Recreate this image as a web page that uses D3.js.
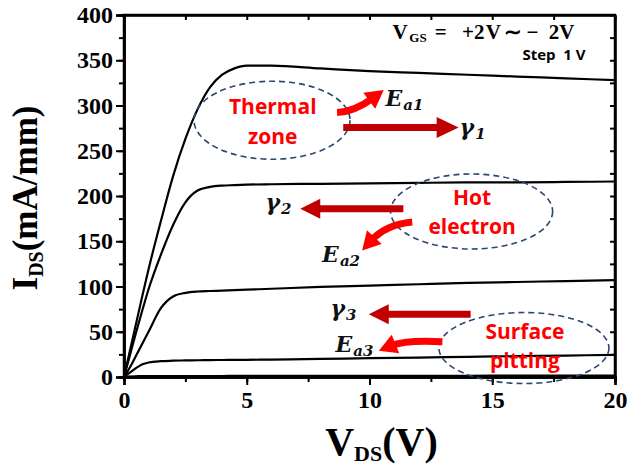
<!DOCTYPE html>
<html>
<head>
<meta charset="utf-8">
<script src="https://cdn.jsdelivr.net/npm/d3@7"></script>
<style>
  html, body { margin: 0; padding: 0; background: #ffffff; }
  svg { display: block; }
</style>
</head>
<body>
<svg id="chart" width="630" height="470"></svg>
<script>
// Output characteristics I_DS–V_DS, V_GS from +2 V down to -2 V in 1 V steps
const vdsGrid = [0, 0.25, 0.5, 0.75, 1, 1.5, 2, 2.5, 3, 3.5, 4, 4.5, 5, 6, 8, 10, 12, 14, 16, 18, 20];
const gateLabels = ["+2 V", "+1 V", "0 V", "-1 V", "-2 V"];
const idsVgsP2 = [0, 30, 60, 90, 119, 172, 222, 263, 296, 320, 334, 341, 344, 344, 341, 338, 336, 334, 332, 330, 328];
const idsVgsP1 = [0, 25, 50, 74, 97, 135, 168, 193, 206, 210, 211.5, 212, 212.5, 213, 213.5, 214, 214.5, 215, 215, 215.5, 216];
const idsVgs0  = [0, 11, 24, 37, 50, 76, 89, 93, 94.5, 95, 95.5, 96, 96.5, 97.5, 99.5, 101, 102.5, 104, 105, 106, 107];
const idsVgsM1 = [0, 5, 10, 14, 16, 17.5, 18, 18.3, 18.5, 18.7, 18.8, 18.9, 19, 19.3, 20, 20.8, 21.5, 22.3, 23, 23.7, 24.5];
const idsVgsM2 = [0, 0.5, 0.8, 1, 1, 1, 1, 1.1, 1.1, 1.1, 1.1, 1.2, 1.2, 1.2, 1.3, 1.3, 1.4, 1.4, 1.5, 1.5, 1.5];
const xTicks = [0, 5, 10, 15, 20];
const yTicks = [0, 50, 100, 150, 200, 250, 300, 350, 400];

const series = [idsVgsP2, idsVgsP1, idsVgs0, idsVgsM1, idsVgsM2].map((vals, i) => ({
  gate: gateLabels[i],
  points: vdsGrid.map((v, j) => [v, vals[j]])
}));

const W = 630, H = 470;
const margin = { left: 124, right: 15, top: 15, bottom: 93 };
const svg = d3.select("#chart");

const x = d3.scaleLinear().domain([0, 20]).range([margin.left, W - margin.right]);
const y = d3.scaleLinear().domain([0, 400]).range([H - margin.bottom, margin.top]);

const serif = "'Liberation Serif', 'Times New Roman', serif";
const sans = "'Open Sans', 'Noto Sans', sans-serif";

// ---- axes ----
const minorX = d3.range(0, 20.01, 2.5);
const minorY = d3.range(0, 400.01, 25);

function styleAxis(g) {
  g.attr("font-family", null);
  g.selectAll("path.domain").attr("stroke", "#000").attr("stroke-width", 2.5);
  g.selectAll(".tick line").attr("stroke", "#000").attr("stroke-width", 2);
}
function styleLabels(g) {
  g.selectAll("text")
    .style("font-family", serif).style("font-weight", "bold").style("font-size", "24px")
    .attr("fill", "#000");
}

// minor ticks (outer, bottom & left)
svg.append("g")
  .attr("transform", `translate(0,${y(0)})`)
  .call(d3.axisBottom(x).tickValues(minorX).tickSize(5).tickFormat(""))
  .call(styleAxis);
svg.append("g")
  .attr("transform", `translate(${x(0)},0)`)
  .call(d3.axisLeft(y).tickValues(minorY).tickSize(5).tickFormat(""))
  .call(styleAxis);

// major ticks with labels
svg.append("g")
  .attr("transform", `translate(0,${y(0)})`)
  .call(d3.axisBottom(x).tickValues(xTicks).tickSize(8).tickPadding(6).tickFormat(d3.format("d")))
  .call(styleAxis).call(styleLabels);

svg.append("g")
  .attr("transform", `translate(${x(0)},0)`)
  .call(d3.axisLeft(y).tickValues(yTicks).tickSize(8).tickPadding(3).tickFormat(d3.format("d")))
  .call(styleAxis).call(styleLabels);

// mirror ticks (inner, top & right)
svg.append("g")
  .attr("transform", `translate(${x(20)},0)`)
  .call(d3.axisRight(y).tickValues(minorY).tickSizeInner(0).tickSizeOuter(0).tickFormat(""))
  .call(styleAxis)
  .call(g => g.selectAll(".tick line").attr("x1", -5).attr("x2", 0));
svg.append("g")
  .attr("transform", `translate(0,${y(400)})`)
  .call(d3.axisTop(x).tickValues(minorX).tickSizeInner(0).tickSizeOuter(0).tickFormat(""))
  .call(styleAxis)
  .call(g => g.selectAll(".tick line").attr("y1", 0).attr("y2", 5));

// frame
svg.append("rect")
  .attr("x", x(0)).attr("y", y(400))
  .attr("width", x(20) - x(0)).attr("height", y(0) - y(400))
  .attr("fill", "none").attr("stroke", "#000").attr("stroke-width", 2.5);

// axis titles
const xt = svg.append("text")
  .attr("x", (x(0) + x(20)) / 2 + 12).attr("y", 455)
  .attr("text-anchor", "middle")
  .style("font-family", serif).style("font-weight", "bold").style("font-size", "40px");
xt.append("tspan").text("V");
xt.append("tspan").style("font-size", "22px").attr("dy", 6).text("DS");
xt.append("tspan").attr("dy", -6).text("(V)");

const yt = svg.append("text")
  .attr("transform", `translate(37,${(y(0) + y(400)) / 2 + 2}) rotate(-90)`)
  .attr("text-anchor", "middle")
  .style("font-family", serif).style("font-weight", "bold").style("font-size", "35px");
yt.append("tspan").text("I");
yt.append("tspan").style("font-size", "20px").attr("dy", 6).text("DS");
yt.append("tspan").attr("dy", -6).text("(mA/mm)");

// ---- curves ----
const line = d3.line()
  .x(d => x(d[0])).y(d => y(d[1]))
  .curve(d3.curveMonotoneX);

svg.append("g").selectAll("path")
  .data(series)
  .join("path")
  .attr("d", d => line(d.points))
  .attr("fill", "none")
  .attr("stroke", "#000")
  .attr("stroke-width", 2.2)
  .attr("stroke-linejoin", "round");

// ---- degradation-mechanism annotations ----
const zoneColor = "#2d4770";
const zones = [
  { cx: 6.03, cy: 283.7, rx: 78, ry: 39, lines: ["Thermal", "zone"], tx: 6.06, ty: [290.6, 257.5] },
  { cx: 14.16, cy: 182.9, rx: 81, ry: 37.5, lines: ["Hot", "electron"], tx: 14.18, ty: [190.3, 157.6] },
  { cx: 16.29, cy: 32, rx: 85, ry: 35.5, lines: ["Surface", "pitting"], tx: 16.33, ty: [41.5, 9.6] }
];

const zg = svg.append("g");
zones.forEach(z => {
  zg.append("ellipse")
    .attr("cx", x(z.cx)).attr("cy", y(z.cy))
    .attr("rx", z.rx).attr("ry", z.ry)
    .attr("fill", "none").attr("stroke", zoneColor)
    .attr("stroke-width", 1.6).attr("stroke-dasharray", "6,4");
  z.lines.forEach((t, i) => {
    zg.append("text")
      .attr("x", x(z.tx)).attr("y", y(z.ty[i]))
      .attr("text-anchor", "middle")
      .style("font-family", sans).style("font-weight", "bold").style("font-size", "21px")
      .attr("fill", "#ff0000")
      .text(t);
  });
});

// arrows: quadratic shaft from start via ctrl towards the tip, triangular head at the tip
function arrow(g, start, ctrl, tip, color, width, headLen, headW) {
  const s = [x(start[0]), y(start[1])];
  const c = [x(ctrl[0]), y(ctrl[1])];
  const t = [x(tip[0]), y(tip[1])];
  const dx = t[0] - c[0], dy = t[1] - c[1];
  const len = Math.hypot(dx, dy);
  const ux = dx / len, uy = dy / len;
  const base = [t[0] - ux * headLen, t[1] - uy * headLen];
  const shaftEnd = [t[0] - ux * headLen * 0.7, t[1] - uy * headLen * 0.7];
  const path = d3.path();
  path.moveTo(s[0], s[1]);
  path.quadraticCurveTo(c[0], c[1], shaftEnd[0], shaftEnd[1]);
  g.append("path").attr("d", path.toString())
    .attr("fill", "none").attr("stroke", color).attr("stroke-width", width);
  const px = -uy * headW / 2, py = ux * headW / 2;
  g.append("path")
    .attr("d", `M${t[0]},${t[1]}L${base[0] + px},${base[1] + py}L${base[0] - px},${base[1] - py}Z`)
    .attr("fill", color);
}

const ag = svg.append("g");
const darkRed = "#c00000", brightRed = "#ff0000";
// γ arrows (straight)
arrow(ag, [8.93, 275.8], [11.3, 275.8], [13.63, 275.8], darkRed, 7, 22, 21);
arrow(ag, [11.38, 185.9], [9.3, 185.9], [7.18, 185.9], darkRed, 7, 20, 20);
arrow(ag, [14.12, 69.4], [12.0, 69.4], [9.97, 69.4], darkRed, 7, 20, 20);
// Ea arrows (curved)
arrow(ag, [8.68, 292.3], [9.39, 293.1], [10.58, 317.0], brightRed, 7, 18, 20);
arrow(ag, [11.74, 171.2], [10.67, 168.5], [9.70, 139.9], brightRed, 7, 18, 20);
arrow(ag, [12.97, 38.9], [11.47, 41.1], [10.38, 29.0], brightRed, 7, 18, 20);

// symbol labels
const mathFont = "'DejaVu Serif', 'Liberation Serif', serif";
const symbols = [
  { sym: "E", sub: "a1", x: 10.65, y: 299.7 },
  { sym: "γ", sub: "1", x: 13.67, y: 267.8 },
  { sym: "γ", sub: "2", x: 5.76, y: 184 },
  { sym: "E", sub: "a2", x: 8.07, y: 127 },
  { sym: "γ", sub: "3", x: 8.41, y: 67.2 },
  { sym: "E", sub: "a3", x: 8.61, y: 27.9 }
];
symbols.forEach(s => {
  const t = svg.append("text")
    .attr("x", x(s.x)).attr("y", y(s.y))
    .style("font-family", mathFont).style("font-weight", "bold").style("font-style", "italic")
    .style("font-size", "22px").attr("fill", "#111");
  t.append("tspan").text(s.sym);
  t.append("tspan").style("font-size", "15px").attr("dy", 4).attr("dx", 1).text(s.sub);
});

// bias condition note, pieces placed along the top of the frame
const notePieces = [
  { t: "V", at: 10.94, size: 21, dy: 0 },
  { t: "GS", at: 11.62, size: 13, dy: 3 },
  { t: "=", at: 12.66, size: 21, dy: 0 },
  { t: "+2", at: 13.77, size: 21, dy: 0 },
  { t: "V", at: 14.74, size: 21, dy: 0 },
  { t: "∼", at: 15.46, size: 21, dy: 0 },
  { t: "−", at: 16.4, size: 21, dy: 0 },
  { t: "2V", at: 17.3, size: 21, dy: 0 }
];
const noteG = svg.append("g");
notePieces.forEach(p => {
  noteG.append("text")
    .attr("x", x(p.at)).attr("y", y(373) + p.dy)
    .style("font-family", serif).style("font-weight", "bold").style("font-size", p.size + "px")
    .text(p.t);
});

svg.append("text")
  .attr("x", x(18.8)).attr("y", y(350))
  .attr("text-anchor", "end")
  .style("font-family", sans).style("font-weight", "bold").style("font-size", "15px")
  .style("white-space", "pre")
  .text("Step  1 V");
</script>
</body>
</html>
